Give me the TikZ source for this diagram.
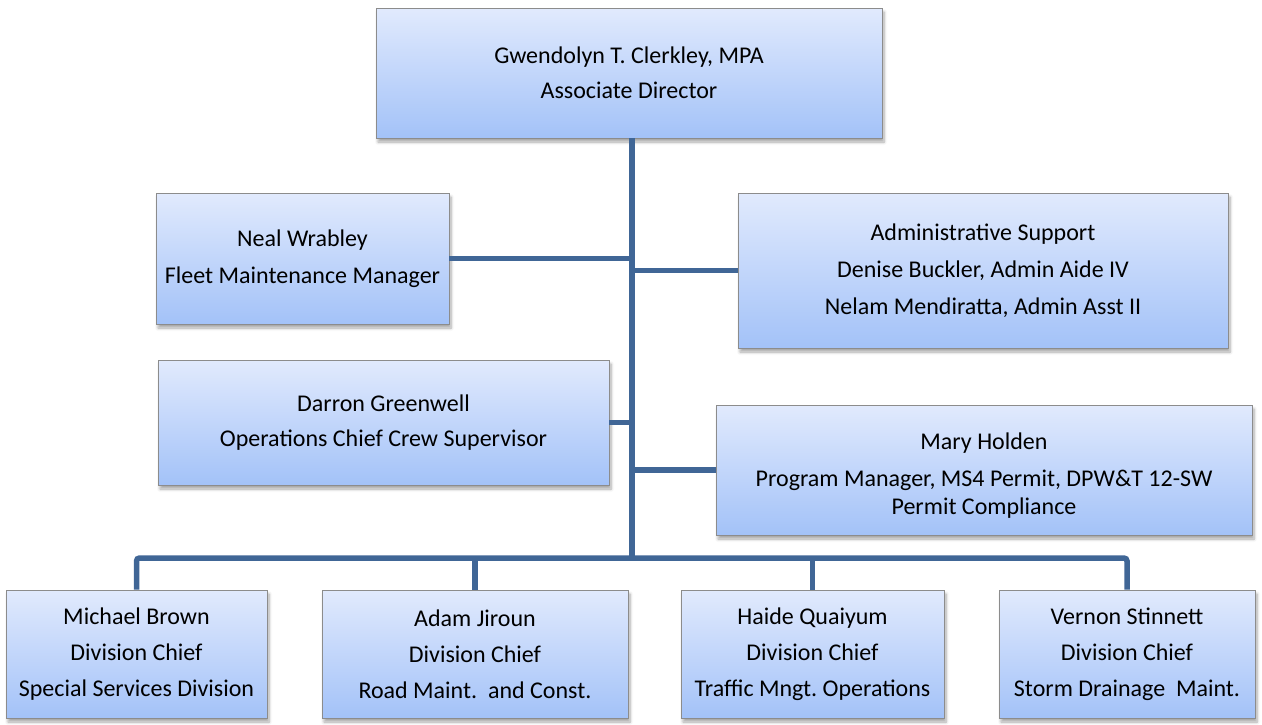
\documentclass[tikz,border=0pt]{standalone}
\usepackage{fontspec}
\setmainfont{Carlito}
\frenchspacing
\usetikzlibrary{shadows,shadows.blur}
\definecolor{boxtop}{RGB}{225,234,253}
\definecolor{boxbottom}{RGB}{163,194,248}
\definecolor{boxedge}{RGB}{140,140,140}
\definecolor{linkblue}{RGB}{64,102,150}
\tikzset{
  orgbox/.style={draw=boxedge, line width=0.9pt, top color=boxtop, bottom color=boxbottom,
    align=center, inner sep=0pt, text=black,
    font=\fontsize{24}{28}\selectfont,
    blur shadow={shadow xshift=2pt, shadow yshift=-4pt, shadow blur steps=6, shadow blur radius=3pt, shadow opacity=35}},
  link/.style={draw=linkblue, line width=5.5pt},
}
\begin{document}
\begin{tikzpicture}[x=1pt,y=-1pt]
\useasboundingbox (0,0) rectangle (1262,724);

% people
\node[orgbox, minimum width=506pt, minimum height=130pt] (top) at (629,73)
  {Gwendolyn T. Clerkley, MPA\\[7pt]Associate Director};
\node[orgbox, minimum width=293pt, minimum height=131pt] (neal) at (302.5,258.5)
  {Neal Wrabley\\[9pt]Fleet Maintenance Manager};
\node[orgbox, minimum width=490pt, minimum height=155pt] (admin) at (983,270.5)
  {Administrative Support\\[9pt]Denise Buckler, Admin Aide IV\\[9pt]Nelam Mendiratta, Admin Asst II};
\node[orgbox, minimum width=451pt, minimum height=125pt] (darron) at (383.5,422.5)
  {Darron Greenwell\\[7pt]Operations Chief Crew Supervisor};
\node[orgbox, minimum width=536pt, minimum height=130pt] (mary) at (984,470)
  {\rule{0pt}{28pt}Mary Holden\\[9pt]Program Manager, MS4 Permit, DPW\&T 12-SW\\Permit Compliance};
\node[orgbox, minimum width=261pt, minimum height=128pt] (b1) at (136.5,654)
  {Michael Brown\\[8pt]Division Chief\\[8pt]Special Services Division};
\node[orgbox, minimum width=306pt, minimum height=128pt] (b2) at (475,654)
  {Adam Jiroun\\[8pt]Division Chief\\[8pt]Road Maint.\ \ and Const.};
\node[orgbox, minimum width=263pt, minimum height=128pt] (b3) at (812.5,654)
  {Haide Quaiyum\\[8pt]Division Chief\\[8pt]Traffic Mngt. Operations};
\node[orgbox, minimum width=256pt, minimum height=128pt] (b4) at (1127,654)
  {Vernon Stinnett\\[8pt]Division Chief\\[8pt]Storm Drainage\ \ Maint.};

% trunk and bus
\coordinate (bus) at (632,558);
\begin{scope}[on background layer/.try]
\draw[link] (top.south -| bus) -- (bus);
\draw[link] (neal.east) -- (neal.east -| bus);
\draw[link] (admin.west) -- (admin.west -| bus);
\draw[link] (darron.east) -- (darron.east -| bus);
\draw[link] (mary.west) -- (mary.west -| bus);
\draw[link, rounded corners=3pt] (b1.north) -- (b1.north |- bus) -- (b4.north |- bus) -- (b4.north);
\draw[link] (b2.north) -- (b2.north |- bus);
\draw[link] (b3.north) -- (b3.north |- bus);
\end{scope}
\end{tikzpicture}
\end{document}
